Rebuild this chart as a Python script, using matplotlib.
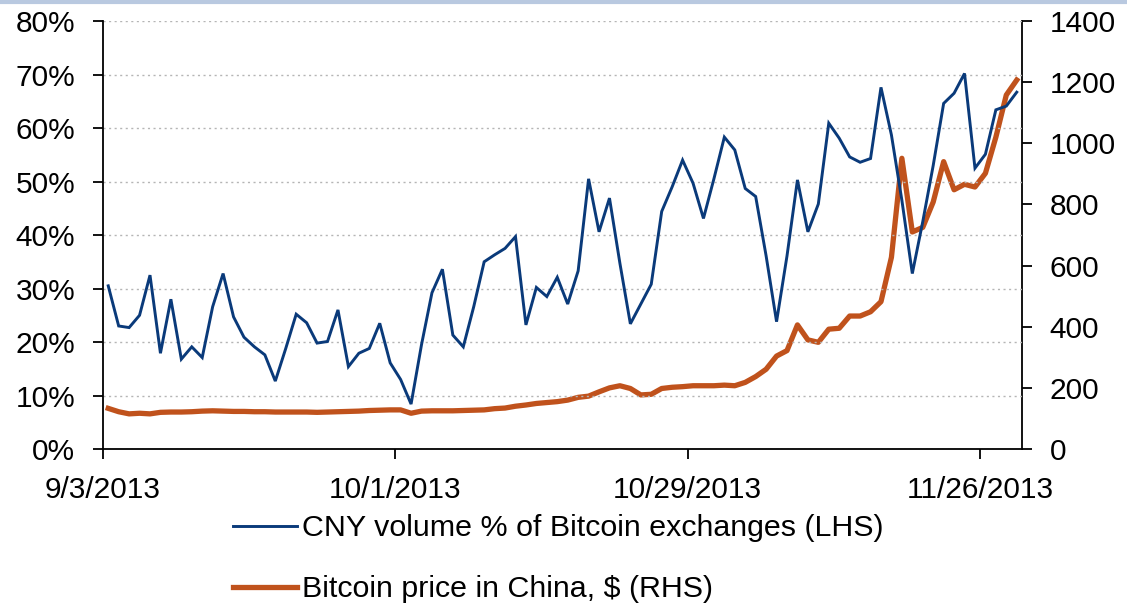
import matplotlib
matplotlib.use('Agg')
import matplotlib.pyplot as plt
from matplotlib.lines import Line2D
import pandas as pd
import numpy as np

plt.rcParams['font.family'] = ['Liberation Sans', 'DejaVu Sans']

# Daily observations 9/3/2013 .. 11/29/2013
dates = pd.date_range('2013-09-03', '2013-11-29', freq='D')

# CNY share of Bitcoin exchange volume, % (LHS)
cny_share = [30.5, 23.0, 22.7, 25.0, 32.5, 17.9, 28.0, 16.8, 19.1, 17.1,
             26.6, 32.8, 24.7, 20.9, 19.1, 17.6, 12.7, 18.8, 25.2, 23.6,
             19.8, 20.1, 26.0, 15.4, 17.9, 18.8, 23.5, 16.1, 13.0, 8.4,
             19.5, 29.2, 33.6, 21.3, 19.1, 26.6, 35.0, 36.3, 37.5, 39.7,
             23.2, 30.2, 28.5, 32.1, 27.1, 33.3, 50.5, 40.6, 46.9, 34.7,
             23.4, 27.1, 30.8, 44.4, 49.0, 54.0, 49.7, 43.1, 50.5, 58.3,
             55.9, 48.7, 47.2, 36.1, 23.8, 36.1, 50.3, 40.6, 45.8, 60.9,
             58.1, 54.6, 53.6, 54.3, 67.6, 58.7, 46.5, 32.8, 42.5, 53.0,
             64.6, 66.5, 70.2, 52.5, 55.1, 63.4, 64.1, 66.7]

# Bitcoin price in China, $ (RHS)
btc_price = [133, 122, 115, 117, 115, 120, 121, 121, 122, 124,
             125, 124, 123, 123, 122, 122, 121, 121, 121, 121,
             120, 121, 122, 123, 124, 126, 127, 128, 128, 117,
             124, 125, 125, 125, 126, 127, 128, 132, 134, 140,
             144, 149, 152, 155, 160, 169, 173, 187, 200, 207,
             198, 177, 179, 198, 202, 204, 207, 207, 207, 209,
             207, 218, 237, 261, 304, 322, 406, 357, 349, 392,
             395, 435, 435, 449, 482, 627, 951, 710, 725, 808,
             940, 848, 866, 857, 902, 1020, 1158, 1207]

tick_dates = ['2013-09-03', '2013-10-01', '2013-10-29', '2013-11-26']
tick_labels = ['9/3/2013', '10/1/2013', '10/29/2013', '11/26/2013']

blue = '#0a3a7a'
orange = '#c0521c'

fig = plt.figure(figsize=(11.27, 6.13), dpi=100)
ax = fig.add_axes([0.0914, 0.2675, 0.8154, 0.6982])
ax2 = ax.twinx()

# points sit in the middle of each day (Excel "between tick marks")
x = dates + pd.Timedelta(hours=12)

ax.plot(x, cny_share, color=blue, lw=2.1, zorder=3, solid_joinstyle='miter')
ax2.plot(x, btc_price, color=orange, lw=3.8, zorder=2, solid_joinstyle='round')

ax.set_zorder(ax2.get_zorder() + 1)
ax.patch.set_visible(False)

ax.set_xlim(pd.Timestamp('2013-09-03'), pd.Timestamp('2013-11-30'))
ax.set_ylim(0, 80)
ax2.set_ylim(0, 1400)

ax.set_yticks(np.arange(0, 81, 10))
ax.set_yticklabels([f'{v}%' for v in range(0, 81, 10)])
ax2.set_yticks(np.arange(0, 1401, 200))

ax.set_xticks(pd.to_datetime(tick_dates))
ax.set_xticklabels(tick_labels)

ax.yaxis.grid(True, linestyle=(0, (1.5, 2.5)), color='#b5b5b5', lw=1.0)
ax.set_axisbelow(True)

for a in (ax, ax2):
    a.spines['top'].set_visible(False)
    a.spines['left'].set_linewidth(1.3)
    a.spines['right'].set_linewidth(1.3)
    a.spines['bottom'].set_linewidth(1.3)
ax.spines['right'].set_visible(False)
ax2.spines['left'].set_visible(False)
ax2.spines['bottom'].set_visible(False)

ax.tick_params(axis='y', direction='out', length=7, width=1.3, labelsize=21.5, pad=13)
ax.tick_params(axis='x', direction='out', length=7, width=1.3, labelsize=21.5, pad=12.5)
ax2.tick_params(axis='y', direction='out', length=7, width=1.3, labelsize=21.5, pad=13)

# thin blue rule across the top of the image
fig.add_artist(Line2D([0, 1], [0.9975, 0.9975], transform=fig.transFigure,
                      color='#b9c9e0', lw=3))

handles = [Line2D([], [], color=blue, lw=2.1),
           Line2D([], [], color=orange, lw=3.8)]
labels = ['CNY volume % of Bitcoin exchanges (LHS)',
          'Bitcoin price in China, $ (RHS)']
fig.legend(handles, labels, loc='center left',
           bbox_to_anchor=(233 / 1127, 0.0885), frameon=False,
           fontsize=21.9, handlelength=2.1, handletextpad=0.17,
           borderpad=0, borderaxespad=0, labelspacing=1.08)

fig.savefig('out.png', dpi=100)
